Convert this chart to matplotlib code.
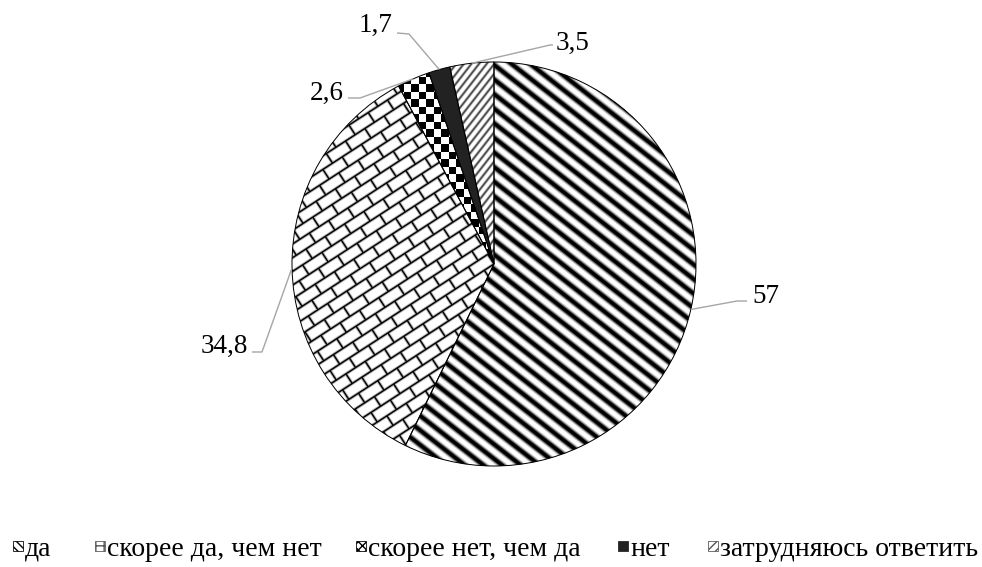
import numpy as np
import matplotlib
matplotlib.use("Agg")
import matplotlib.pyplot as plt
from matplotlib.collections import LineCollection, PolyCollection
from matplotlib.patches import Rectangle

categories = ["да", "скорее да, чем нет", "скорее нет, чем да", "нет", "затрудняюсь ответить"]
values = [57, 34.8, 2.6, 1.7, 3.5]
value_labels = ["57", "34,8", "2,6", "1,7", "3,5"]

W, H = 982, 567
plt.rcParams["font.family"] = ["Liberation Serif", "DejaVu Serif"]

fig = plt.figure(figsize=(W / 100, H / 100), dpi=100)
ax = fig.add_axes([0, 0, 1, 1])

cx, cy, R = 494, H - 264, 202
PX = 0.72  # points per pixel at 100 dpi

wedges, _ = ax.pie(values, startangle=90, counterclock=False, center=(cx, cy),
                   radius=R, colors=["white"] * len(values),
                   wedgeprops=dict(edgecolor="none", linewidth=0))


def add_clipped_lines(segs, patch, layers):
    for color, lw in layers:
        lc = LineCollection(segs, colors=color, linewidths=lw * PX,
                            capstyle="butt", zorder=2)
        ax.add_collection(lc)
        lc.set_clip_path(patch)


def stripe_segments(angle, spacing):
    a = np.deg2rad(angle)
    d = np.array([np.cos(a), np.sin(a)])
    n = np.array([-np.sin(a), np.cos(a)])
    L = R * 1.5
    segs = []
    for o in np.arange(-L, L, spacing):
        p = np.array([cx, cy]) + n * o
        segs.append([tuple(p - d * L), tuple(p + d * L)])
    return segs


def brick_segments(angle, lb, hb):
    a = np.deg2rad(angle)
    u = np.array([np.cos(a), np.sin(a)])
    v = np.array([-np.sin(a), np.cos(a)])
    c = np.array([cx, cy])
    L = R * 1.5
    segs = []
    nrows = int(L / hb) + 2
    ncols = int(L / lb) + 2
    for j in range(-nrows, nrows):
        segs.append([tuple(c + v * j * hb - u * L), tuple(c + v * j * hb + u * L)])
        for i in range(-ncols, ncols):
            u0 = i * lb + (j % 2) * lb / 2
            segs.append([tuple(c + u * u0 + v * j * hb),
                         tuple(c + u * u0 + v * (j + 1) * hb)])
    return segs


def checker_polys(size):
    polys = []
    n = int(R / size) + 2
    for i in range(-n, n):
        for j in range(-n, n):
            if (i + j) % 2 == 0:
                x0, y0 = cx + i * size, cy + j * size
                polys.append([(x0, y0), (x0 + size, y0), (x0 + size, y0 + size), (x0, y0 + size)])
    return polys


# да: bold diagonal stripes
add_clipped_lines(stripe_segments(-38, 11.5), wedges[0],
                  [("#c8c8c8", 7.5), ("#6a6a6a", 5.5), ("#000000", 3.5)])
# скорее да, чем нет: diagonal brick
add_clipped_lines(brick_segments(33, 23, 11.5), wedges[1],
                  [("#b0b0b0", 3.2), ("#000000", 1.4)])
# скорее нет, чем да: checkerboard
pc = PolyCollection(checker_polys(7.5), facecolors="black", edgecolors="none", zorder=2)
ax.add_collection(pc)
pc.set_clip_path(wedges[2])
# нет: solid
wedges[3].set_facecolor("#222222")
# затрудняюсь ответить: fine diagonal stripes
add_clipped_lines(stripe_segments(52, 6.0), wedges[4],
                  [("#b4b4b4", 3.0), ("#444444", 1.4)])

# outlines on top
ax.pie(values, startangle=90, counterclock=False, center=(cx, cy), radius=R,
       wedgeprops=dict(facecolor="none", edgecolor="black", linewidth=1.0 * PX, zorder=3))

# leader lines and value labels
elbows = [(737, 301), (262, 352), (360, 98), (409, 34), (550, 45)]
ends = [(747, 301), (252, 352), (348, 98), (397, 33), (553, 45)]
text_pos = [(752, 303, "left"), (248, 353, "right"), (344, 100, "right"),
            (392, 32, "right"), (556, 50, "left")]
total = sum(values)
start = 0.0
for val, lab, el, en, tp in zip(values, value_labels, elbows, ends, text_pos):
    mid = np.deg2rad((start + val / 2) / total * 360)
    start += val
    ex, ey = cx + R * np.sin(mid), cy + R * np.cos(mid)
    ax.plot([ex, el[0], en[0]], [ey, H - el[1], H - en[1]], color="#a6a6a6",
            lw=1.4 * PX, zorder=4, solid_capstyle="butt")
    ax.text(tp[0], H - tp[1], lab, ha=tp[2], va="baseline", fontsize=19.5,
            color="black", zorder=5)

# legend
marker_x = [13, 95, 356, 618, 708]
ly = H - 546
ms = 10
legend_styles = [
    dict(facecolor="white", edgecolor="black", hatch="\\\\\\\\"),
    dict(facecolor="white", edgecolor="#555555", hatch="++"),
    dict(facecolor="white", edgecolor="black", hatch="xxxx"),
    dict(facecolor="#222222", edgecolor="#222222", hatch=None),
    dict(facecolor="white", edgecolor="#555555", hatch="////"),
]
for mx, cat, st in zip(marker_x, categories, legend_styles):
    ax.add_patch(Rectangle((mx, ly - ms / 2), ms, ms, linewidth=0.8 * PX, zorder=5, **st))
    ax.text(mx + ms + 2, ly, cat, ha="left", va="center_baseline", fontsize=20, color="black")

ax.set_xlim(0, W)
ax.set_ylim(0, H)
ax.set_aspect("auto")
ax.axis("off")
fig.savefig("out.png", dpi=100, facecolor="white")
